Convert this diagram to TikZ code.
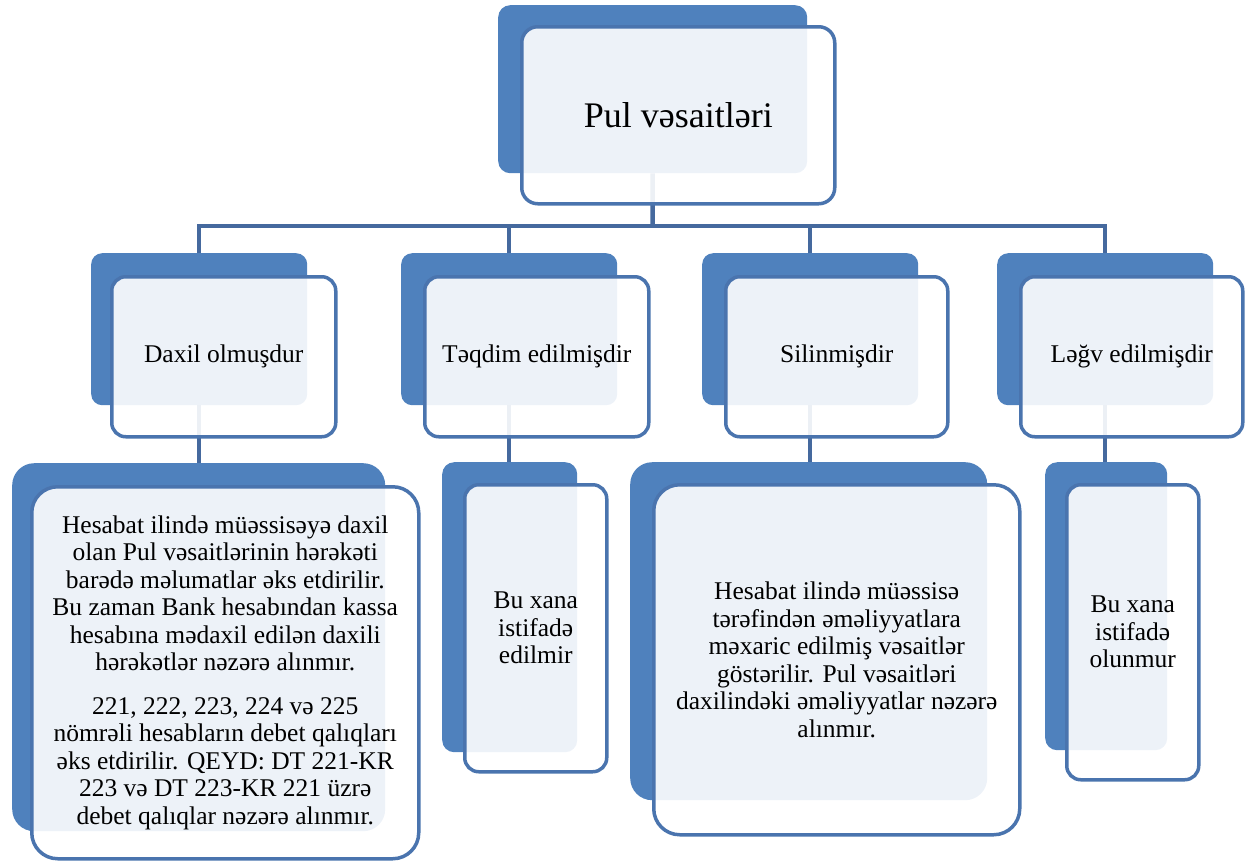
\documentclass[tikz,border=0pt]{standalone}
\usepackage{fontspec}
\setmainfont{Liberation Serif}
\definecolor{accent}{HTML}{4F81BD}
\definecolor{edgeblue}{HTML}{4A74AE}
\definecolor{connblue}{HTML}{45699E}
\tikzset{
  backbox/.style={fill=accent, draw=none, anchor=north west, inner sep=0pt},
  frontbox/.style={preaction={fill=white, fill opacity=0.9}, draw=edgeblue, line width=3.5pt, anchor=north west, inner sep=0pt, align=center, text=black},
  connector/.style={draw=connblue, line width=4.5pt},
  bigtext/.style={font=\fontsize{36}{42}\selectfont},
  midtext/.style={font=\fontsize{25.5}{30}\selectfont},
  smalltext/.style={font=\fontsize{25.5}{27.5}\selectfont},
}
\begin{document}
\begin{tikzpicture}[x=1pt,y=-1pt]
\useasboundingbox (0,0) rectangle (1251,863);
% back boxes
\node[backbox, rounded corners=12, minimum width=309, minimum height=168] (topb) at (498,5) {};
\node[backbox, rounded corners=11, minimum width=216, minimum height=152] (b1) at (91,253) {};
\node[backbox, rounded corners=11, minimum width=216, minimum height=152] (b2) at (401,253) {};
\node[backbox, rounded corners=11, minimum width=216, minimum height=152] (b3) at (702,253) {};
\node[backbox, rounded corners=11, minimum width=216, minimum height=152] (b4) at (997,253) {};
\node[backbox, rounded corners=22, minimum width=373, minimum height=368] (c1) at (12,463) {};
\node[backbox, rounded corners=12, minimum width=135, minimum height=290] (c2) at (442,462) {};
\node[backbox, rounded corners=22, minimum width=357, minimum height=338] (c3) at (630,462) {};
\node[backbox, rounded corners=12, minimum width=122, minimum height=288] (c4) at (1045,462) {};
% connectors
\coordinate (hub) at (652.5,226);
\draw[connector] (topb.south) -- (hub);
\draw[connector] (b1.north) -- (b1.north |- hub) -- (b4.north |- hub) -- (b4.north);
\draw[connector] (b2.north) -- (b2.north |- hub);
\draw[connector] (b3.north) -- (b3.north |- hub);
\draw[connector] (b1.south) -- (b1.south |- c1.north);
\draw[connector] (b2.south) -- (b2.south |- c2.north);
\draw[connector] (b3.south) -- (b3.south |- c3.north);
\draw[connector] (b4.south) -- (b4.south |- c4.north);
% front boxes
\node[frontbox, bigtext, rounded corners=16, minimum width=313, minimum height=177] (top) at (520,25) {Pul vəsaitləri};
\node[frontbox, midtext, rounded corners=14, minimum width=224, minimum height=160] (f1) at (110,275) {Daxil olmuşdur};
\node[frontbox, midtext, rounded corners=14, minimum width=224, minimum height=160] (f2) at (423,275) {Təqdim edilmişdir};
\node[frontbox, midtext, rounded corners=14, minimum width=222, minimum height=160] (f3) at (724,275) {Silinmişdir};
\node[frontbox, midtext, rounded corners=14, minimum width=222, minimum height=160] (f4) at (1019,275) {Ləğv edilmişdir};
\node[frontbox, smalltext, rounded corners=26, minimum width=387, minimum height=372] (g1) at (30,485)
 {Hesabat ilində müəssisəyə daxil\\olan Pul vəsaitlərinin hərəkəti\\barədə məlumatlar əks etdirilir.\\Bu zaman Bank hesabından kassa\\hesabına mədaxil edilən daxili\\hərəkətlər nəzərə alınmır.\\[16pt]221, 222, 223, 224 və 225\\nömrəli hesabların debet qalıqları\\əks etdirilir. QEYD: DT 221-KR\\223 və DT 223-KR 221 üzrə\\debet qalıqlar nəzərə alınmır.};
\node[frontbox, smalltext, rounded corners=14, minimum width=142, minimum height=287] (g2) at (463,483)
 {Bu xana\\istifadə\\edilmir};
\node[frontbox, smalltext, rounded corners=26, minimum width=366, minimum height=350] (g3) at (652,483)
 {Hesabat ilində müəssisə\\tərəfindən əməliyyatlara\\məxaric edilmiş vəsaitlər\\göstərilir. Pul vəsaitləri\\daxilindəki əməliyyatlar nəzərə\\alınmır.};
\node[frontbox, smalltext, rounded corners=14, minimum width=132, minimum height=295] (g4) at (1065,483)
 {Bu xana\\istifadə\\olunmur};
\end{tikzpicture}
\end{document}
